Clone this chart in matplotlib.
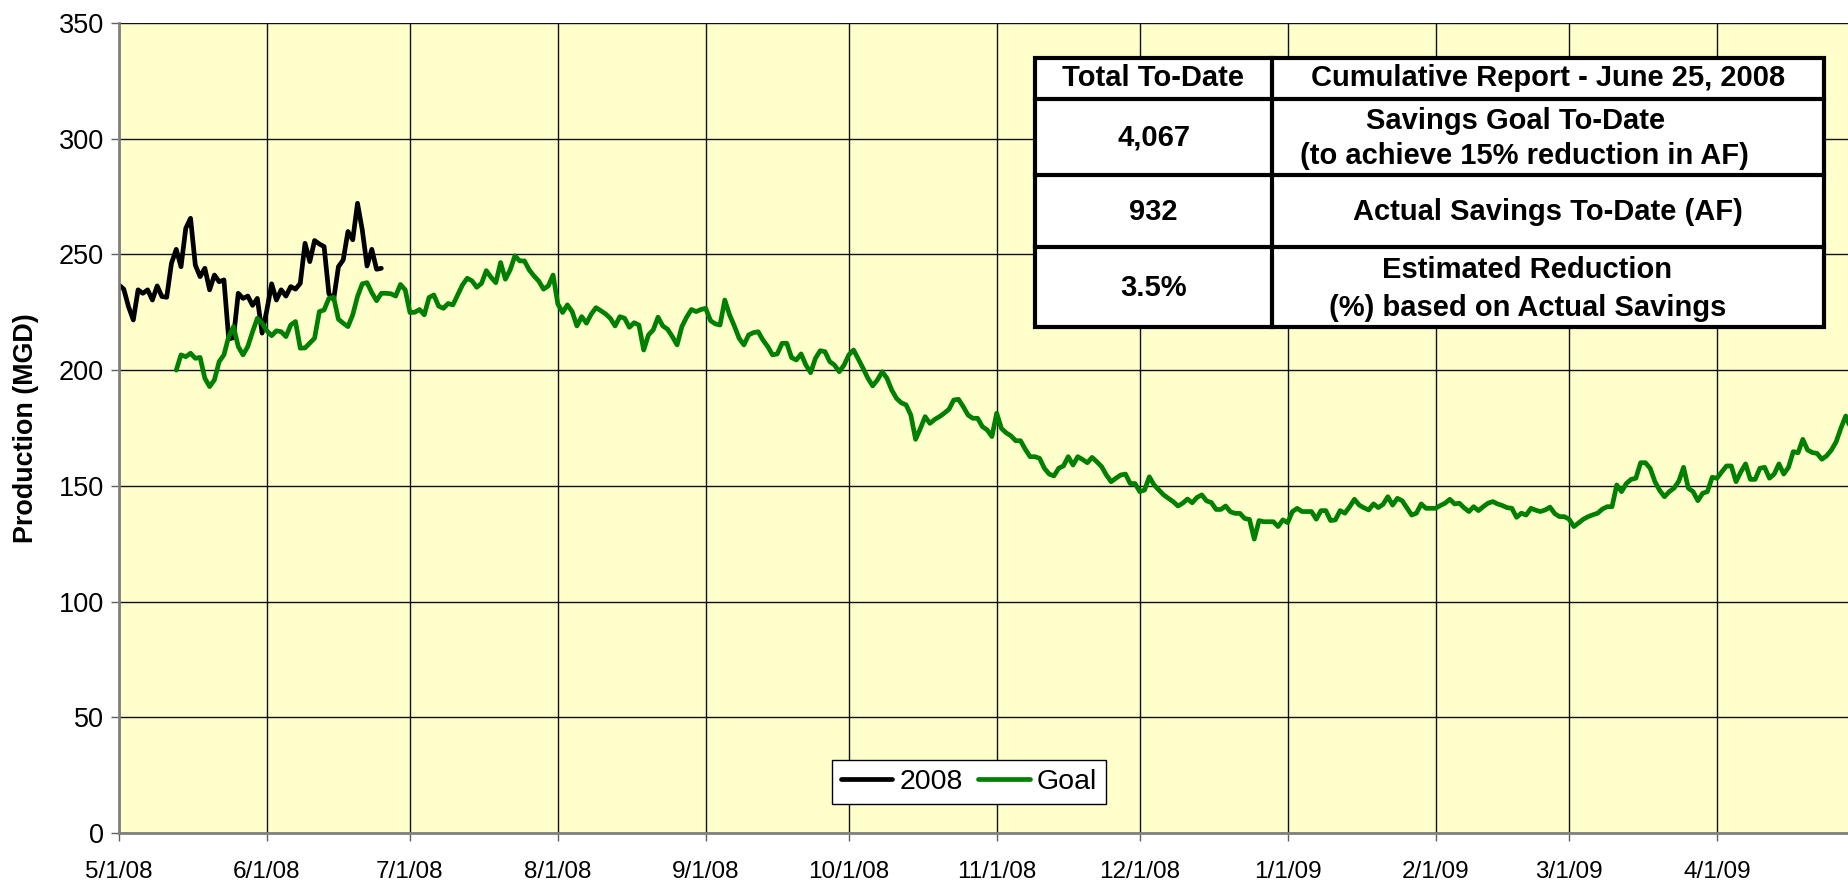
import numpy as np
import matplotlib
matplotlib.use("Agg")
import matplotlib.pyplot as plt
from matplotlib import font_manager
from matplotlib.patches import Rectangle
from matplotlib.lines import Line2D

# ---------------- data ----------------
actual_start = "2008-05-01"
actual_2008 = [236.8, 235, 227.4, 221.7, 234.7, 233.2, 234.7, 230.3, 236.4, 231.8,
               231.5, 246.2, 252.2, 244.7, 261.3, 265.6, 245.4, 240.4, 244, 234.7,
               241.1, 238.2, 239, 213.5, 214, 233.2, 231, 232, 228, 231,
               216, 226, 237.3, 230.3, 234.7, 232, 236.1, 235, 237.5, 254.8,
               246.9, 256, 254.5, 253.4, 233, 230.5, 244.7, 247.6, 259.9, 256.3,
               272.1, 260.6, 245, 252.2, 243.6, 244]

goal_start = "2008-05-13"
goal = [200, 206.6, 205.8, 207.3, 205.1, 205.5, 196.5, 192.9, 195.8, 203.7,
        206.6, 214.5, 218.8, 210.2, 206.6, 210.2, 216.6, 222.4, 220.3, 217,
        214.9, 217, 216.6, 214.5, 219.5, 221, 209.5, 209.6, 211.7, 213.8,
        225.3, 226, 231, 231.5, 222, 220.3, 218.8, 223.9, 231.8, 237.3,
        237.8, 233.5, 230, 233.2, 233.2, 233, 232, 237, 234.7, 224.9,
        225, 226.2, 223.9, 231.4, 232.5, 227.7, 226.7, 228.8, 228.2, 232.5,
        236.8, 239.7, 238.6, 235.8, 237.5, 243, 240.1, 237.8, 246.5, 239.3,
        243.3, 249.4, 247.2, 247.2, 243.3, 240.7, 238.5, 235, 236.4, 241.1,
        228.6, 224.9, 228.2, 225.3, 219.1, 223.1, 220.3, 224.2, 227, 225.7,
        224.3, 222.4, 219.1, 223.1, 222.4, 218.5, 220.5, 219.5, 208.7, 215.2,
        217.4, 222.9, 219.1, 217.7, 214.5, 210.9, 218.8, 222.9, 226.2, 225.3,
        226.2, 226.7, 221.4, 220, 219.5, 230.3, 223.9, 219.1, 213.8, 210.9,
        215.2, 216.2, 216.6, 213, 210.2, 206.6, 207, 211.6, 211.6, 205.4,
        204.4, 207, 202.2, 198.9, 205.1, 208.4, 208, 203.7, 202.2, 199.3,
        202.2, 206.6, 208.7, 204.7, 200.8, 196.5, 193.2, 195.8, 199.3, 196.5,
        191.4, 187.8, 185.9, 185, 180.6, 170.1, 174.8, 179.9, 177, 178.7,
        179.9, 181.4, 183.1, 187.1, 187.4, 184.2, 180.6, 179.2, 179.2, 175.6,
        174.2, 171.3, 181.4, 174.8, 172.9, 171.6, 169.5, 169.5, 165.8, 162.6,
        162.6, 161.9, 157.6, 155.1, 154.3, 157.6, 158.6, 162.6, 159, 162.6,
        161.4, 160, 162.3, 160.4, 158.3, 154.7, 151.8, 153.3, 154.7, 155.1,
        151, 151, 147.5, 148.2, 153.9, 150.4, 148.2, 146.1, 144.6, 143.2,
        141.3, 142.5, 144.3, 142.7, 145, 146.1, 143.5, 142.8, 139.8, 139.8,
        141.3, 138.8, 138.1, 138.1, 135.9, 135.5, 127, 135, 134.5, 134.5,
        134.5, 132.4, 135.3, 134.1, 138.9, 140.3, 138.9, 138.9, 138.9, 135.6,
        139.3, 139.3, 135, 135.3, 139.3, 138.2, 141, 144.2, 141.7, 140.5,
        139.6, 142.2, 140.6, 142, 145.3, 141.7, 144.6, 143.6, 140.5, 137.4,
        138.2, 142.2, 140.3, 140.3, 140.3, 141.5, 142.5, 144.2, 142.2, 142.5,
        140.5, 138.9, 141, 139.3, 141, 142.5, 143.2, 142.2, 141.5, 140.6,
        140.3, 136.4, 138.2, 137.4, 140.3, 139.5, 138.9, 139.6, 140.8, 138,
        136.7, 136.7, 135.6, 132.4, 134, 135.6, 136.7, 137.5, 138.2, 140,
        141, 141, 150.4, 147.5, 151, 152.8, 153.3, 160, 160, 157.6,
        151.8, 148, 145.3, 147.5, 149, 152, 158, 149, 147.5, 143.6,
        146.8, 147.5, 153.7, 153.3, 156, 158.6, 158.6, 151.8, 156, 159.5,
        152.8, 152.8, 157.6, 158, 153.3, 155.1, 159.5, 155.1, 158, 164.8,
        164.3, 170.1, 165.5, 164.4, 164, 161.5, 163, 165.5, 169.1, 175,
        180.2, 174.9]

x_range = ["2008-05-01", "2009-05-01"]
month_ticks = ["2008-05-01", "2008-06-01", "2008-07-01", "2008-08-01", "2008-09-01",
               "2008-10-01", "2008-11-01", "2008-12-01", "2009-01-01", "2009-02-01",
               "2009-03-01", "2009-04-01"]
y_ticks = [0, 50, 100, 150, 200, 250, 300, 350]
y_label = "Production (MGD)"
series_names = ["2008", "Goal"]

table_header = ["Total To-Date", "Cumulative Report - June 25, 2008"]
table_values = ["4,067", "932", "3.5%"]
table_labels = [["Savings Goal To-Date", "(to achieve 15% reduction in AF)"],
                ["Actual Savings To-Date (AF)"],
                ["Estimated Reduction", "(%) based on Actual Savings"]]

# ---------------- fonts ----------------
avail = {f.name for f in font_manager.fontManager.ttflist}
base_font = "Liberation Sans" if "Liberation Sans" in avail else "DejaVu Sans"
narrow = "Liberation Sans Narrow" in avail
plt.rcParams["font.family"] = [base_font, "DejaVu Sans"]

# ---------------- figure ----------------
W, H = 1848, 885
fig = plt.figure(figsize=(W / 100, H / 100), dpi=100)
fig.patch.set_facecolor("white")


def fx(x):
    return x / W


def fy(y):
    return 1 - y / H


px_per_day = 4.77
ax = fig.add_axes([fx(119), fy(833), 365 * px_per_day / W, (833 - 23) / H])
ax.set_facecolor("#FFFFCC")

d_act = np.datetime64(actual_start) + np.arange(len(actual_2008))
d_goal = np.datetime64(goal_start) + np.arange(len(goal))

l1, = ax.plot(d_act, actual_2008, color="black", lw=3.4, solid_joinstyle="round",
              solid_capstyle="round", label=series_names[0], zorder=3)
l2, = ax.plot(d_goal, goal, color="#008000", lw=3.4, solid_joinstyle="round",
              solid_capstyle="round", label=series_names[1], zorder=4)

ax.set_xlim(np.datetime64(x_range[0]), np.datetime64(x_range[1]))
ax.set_ylim(0, 350)
ax.set_yticks(y_ticks)
ax.set_yticklabels([str(v) for v in y_ticks], fontsize=19.5)

tick_dates = [np.datetime64(t) for t in month_ticks]
ax.set_xticks(tick_dates)
labels = []
for t in month_ticks:
    yy, mm, dd = t.split("-")
    labels.append(f"{int(mm)}/{int(dd)}/{yy[2:]}")
if narrow:
    ax.set_xticklabels(labels, fontsize=18.5, family="Liberation Sans Narrow")
else:
    ax.set_xticklabels(labels, fontsize=17.5)

ax.grid(True, color="#111111", lw=1.0)
ax.set_axisbelow(True)
for s in ["top", "right"]:
    ax.spines[s].set_visible(False)
for s in ["left", "bottom"]:
    ax.spines[s].set_color("#808080")
    ax.spines[s].set_linewidth(2.0)
    ax.spines[s].set_zorder(5)
ax.tick_params(axis="both", direction="out", length=6, width=1, color="#606060")
ax.tick_params(axis="y", pad=5)
ax.tick_params(axis="x", pad=14)

fig.text(fx(26), fy(428), y_label, rotation=90, ha="center", va="center",
         fontsize=19.4, fontweight="bold")

# legend
leg = ax.legend(handles=[l1, l2], loc="center", ncol=2,
                bbox_to_anchor=(fx(969), fy(782)), bbox_transform=fig.transFigure,
                fontsize=20.5, frameon=True, fancybox=False, framealpha=1,
                edgecolor="black", handlelength=1.8, handletextpad=0.25,
                columnspacing=0.55, borderpad=0.3, borderaxespad=0)
leg.get_frame().set_linewidth(1.0)
leg.set_zorder(10)

# ---------------- table ----------------
tx0, tx1, tx2 = 1035, 1272, 1824
row_y = [58, 99, 175, 247, 327]
lwt = 3.0
fig.patches.append(Rectangle((fx(tx0), fy(row_y[-1])), fx(tx2) - fx(tx0),
                             fy(row_y[0]) - fy(row_y[-1]), transform=fig.transFigure,
                             facecolor="white", edgecolor="black", lw=lwt, zorder=20))
fig.lines.append(Line2D([fx(tx1), fx(tx1)], [fy(row_y[0]), fy(row_y[-1])],
                        transform=fig.transFigure, color="black", lw=lwt, zorder=21))
for yy in row_y[1:-1]:
    fig.lines.append(Line2D([fx(tx0), fx(tx2)], [fy(yy), fy(yy)],
                            transform=fig.transFigure, color="black", lw=lwt, zorder=21))

tfs = 21
c1 = (tx0 + tx1) / 2
c2 = (tx1 + tx2) / 2
fig.text(fx(c1), fy(78.5), table_header[0], ha="center", va="center",
         fontsize=tfs, fontweight="bold", zorder=22)
fig.text(fx(c2), fy(78.5), table_header[1], ha="center", va="center",
         fontsize=tfs, fontweight="bold", zorder=22)

value_y = [138, 212, 288]
label_pos = [[(1516, 121), (1524, 156)], [(1548, 212)], [(1527, 270), (1528, 308)]]
for v, vy, lab, pos in zip(table_values, value_y, table_labels, label_pos):
    fig.text(fx(c1), fy(vy), v, ha="center", va="center", fontsize=tfs,
             fontweight="bold", zorder=22)
    for line, (lx, ly) in zip(lab, pos):
        fig.text(fx(lx), fy(ly), line, ha="center", va="center", fontsize=tfs,
                 fontweight="bold", zorder=22)

fig.savefig("out.png", dpi=100)
